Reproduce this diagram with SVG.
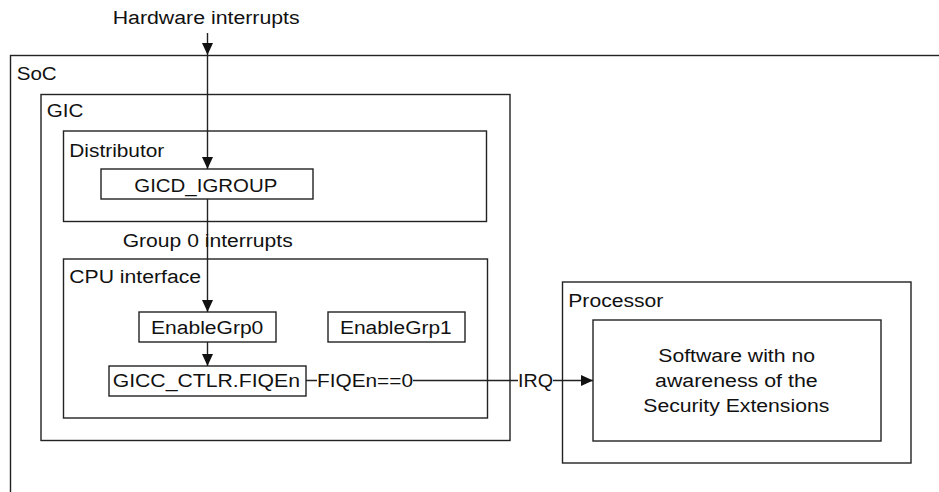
<svg xmlns="http://www.w3.org/2000/svg" width="939" height="492" viewBox="0 0 939 492">
<style>
.box{fill:none;stroke:#222;stroke-width:1.4}
.ln{fill:none;stroke:#222;stroke-width:1.4}
text{font-family:"Liberation Sans",Arial,sans-serif;font-size:18px;fill:#111}
</style>
<defs>
<marker id="arr" viewBox="0 0 12 11" refX="12" refY="5.5" markerWidth="12" markerHeight="11" markerUnits="userSpaceOnUse" orient="auto">
<path d="M0,0 L12,5.5 L0,11 z" fill="#111"/>
</marker>
</defs>
<rect width="939" height="492" fill="#fff"/>
<g id="soc">
<rect class="box" x="10.5" y="55.5" width="1000" height="500"/>
<text x="16.7" y="80" textLength="40" lengthAdjust="spacingAndGlyphs">SoC</text>
</g>
<g id="gic">
<rect class="box" x="41" y="94.5" width="469" height="346"/>
<text x="46.7" y="117" textLength="36.7" lengthAdjust="spacingAndGlyphs">GIC</text>
</g>
<g id="distributor">
<rect class="box" x="63.5" y="131" width="423" height="90.5"/>
<text x="69.3" y="157" textLength="95" lengthAdjust="spacingAndGlyphs">Distributor</text>
</g>
<g id="gicd_igroup">
<rect class="box" x="101" y="169" width="212" height="30"/>
<text x="134.3" y="191.7" textLength="143" lengthAdjust="spacingAndGlyphs">GICD_IGROUP</text>
</g>
<g id="cpu_interface">
<rect class="box" x="63.5" y="259" width="424" height="159"/>
<text x="69.3" y="283.3" textLength="131.7" lengthAdjust="spacingAndGlyphs">CPU interface</text>
</g>
<g id="enablegrp0">
<rect class="box" x="139" y="312" width="137" height="30"/>
<text x="151" y="334.3" textLength="112.3" lengthAdjust="spacingAndGlyphs">EnableGrp0</text>
</g>
<g id="enablegrp1">
<rect class="box" x="328" y="312" width="137" height="30"/>
<text x="340" y="334.3" textLength="111.7" lengthAdjust="spacingAndGlyphs">EnableGrp1</text>
</g>
<g id="gicc_ctlr">
<rect class="box" x="109" y="366" width="197" height="30"/>
<text x="112.7" y="386.7" textLength="187.3" lengthAdjust="spacingAndGlyphs">GICC_CTLR.FIQEn</text>
</g>
<g id="processor">
<rect class="box" x="562.5" y="282" width="348.5" height="181"/>
<text x="568.3" y="306.7" textLength="95" lengthAdjust="spacingAndGlyphs">Processor</text>
</g>
<g id="software">
<rect class="box" x="593" y="320" width="288" height="121"/>
<text x="658.3" y="361.7" textLength="156.7" lengthAdjust="spacingAndGlyphs">Software with no</text>
<text x="655" y="386.7" textLength="162.7" lengthAdjust="spacingAndGlyphs">awareness of the</text>
<text x="643.3" y="412.3" textLength="186" lengthAdjust="spacingAndGlyphs">Security Extensions</text>
</g>
<g id="connectors">
<path class="ln" d="M207.5,33 V55" marker-end="url(#arr)"/>
<path class="ln" d="M207.5,55 V169" marker-end="url(#arr)"/>
<path class="ln" d="M207.5,199 V312" marker-end="url(#arr)"/>
<path class="ln" d="M207.5,342 V366" marker-end="url(#arr)"/>
<path class="ln" d="M306,380.5 H317 M413,380.5 H518 M553,380.5 H593" marker-end="url(#arr)"/>
<text x="112.7" y="24" textLength="187" lengthAdjust="spacingAndGlyphs">Hardware interrupts</text>
<text x="122.7" y="246.7" textLength="170" lengthAdjust="spacingAndGlyphs">Group 0 interrupts</text>
<text x="317" y="386.7" textLength="96" lengthAdjust="spacingAndGlyphs">FIQEn==0</text>
<text x="518" y="386.7" textLength="35" lengthAdjust="spacingAndGlyphs">IRQ</text>
</g>
</svg>
